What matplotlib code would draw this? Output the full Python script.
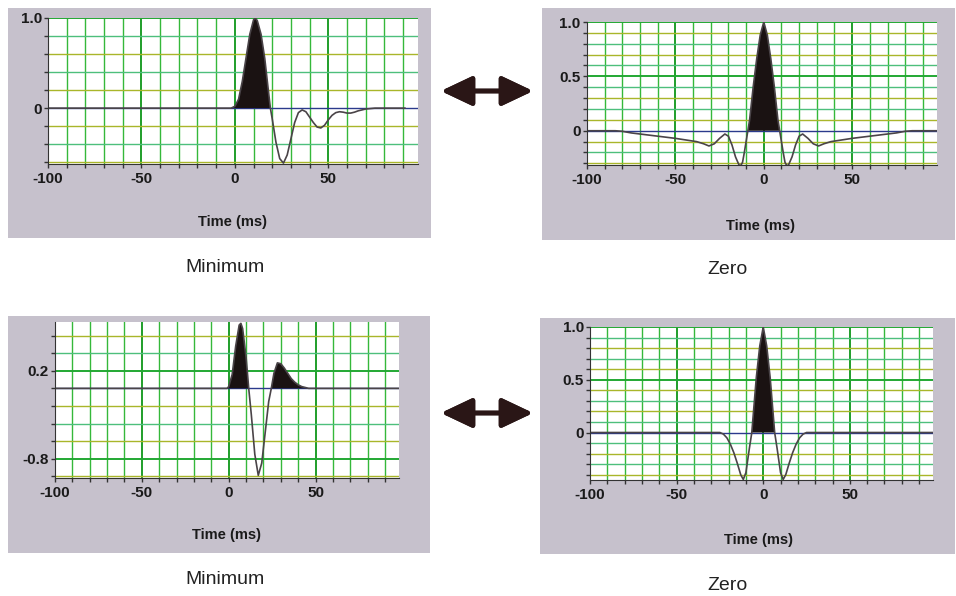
import numpy as np
import matplotlib
matplotlib.use("Agg")
import matplotlib.pyplot as plt
from matplotlib.patches import Rectangle

plt.rcParams["font.family"] = ["Liberation Sans", "DejaVu Sans"]

# ---- data (time in ms, amplitude) ----
# top-left: minimum phase
t_min1 = [-100, -2, 0, 2, 4, 6, 8, 10, 11, 12, 14, 16, 18, 19, 20, 22, 24, 26, 28, 30,
          32, 34, 36, 38, 40, 42, 44, 46, 48, 50, 52, 54, 56, 58, 60, 62, 64, 66, 70, 75, 91]
a_min1 = [0, 0, 0.02, 0.10, 0.30, 0.56, 0.82, 0.98, 1.0, 0.97, 0.82, 0.55, 0.18, 0.0, -0.12,
          -0.38, -0.56, -0.61, -0.52, -0.34, -0.16, -0.05, -0.02, -0.04, -0.10, -0.16, -0.21,
          -0.22, -0.19, -0.13, -0.08, -0.05, -0.04, -0.045, -0.055, -0.055, -0.045, -0.03,
          -0.01, 0.0, 0.0]

# top-right: zero phase
t_zero1 = [-100, -84, -80, -75, -70, -65, -60, -55, -50, -46, -42, -38, -34, -31, -28, -25,
           -22, -20, -18, -16, -14, -13, -12, -11, -10, -9, -8, -6, -4, -2, 0, 2, 4, 6, 8, 9,
           10, 11, 12, 13, 14, 16, 18, 20, 22, 25, 28, 31, 34, 38, 42, 46, 50, 55, 60, 65, 70,
           75, 80, 84, 98]
a_zero1 = [0, 0, -0.005, -0.02, -0.03, -0.04, -0.05, -0.06, -0.07, -0.08, -0.09, -0.10, -0.12,
           -0.14, -0.12, -0.07, -0.03, -0.05, -0.13, -0.24, -0.315, -0.32, -0.29, -0.2, -0.1,
           0.0, 0.10, 0.40, 0.66, 0.88, 1.0, 0.88, 0.66, 0.40, 0.10, 0.0, -0.1, -0.2, -0.29,
           -0.32, -0.315, -0.24, -0.13, -0.05, -0.03, -0.07, -0.12, -0.14, -0.12, -0.10, -0.09,
           -0.08, -0.07, -0.06, -0.05, -0.04, -0.03, -0.02, -0.005, 0, 0]

# bottom-left: minimum phase
t_min2 = [-100, -1, 0, 2, 4, 6, 7, 8, 10, 11.5, 13, 15, 17, 19, 21, 23, 24.5, 26, 28, 30,
          32, 34, 36, 38, 40, 42, 44, 46, 98]
a_min2 = [0, 0, 0.02, 0.16, 0.48, 0.72, 0.74, 0.68, 0.35, 0.0, -0.30, -0.75, -0.99, -0.85,
          -0.50, -0.15, 0.0, 0.17, 0.29, 0.28, 0.23, 0.17, 0.11, 0.07, 0.04, 0.02, 0.01, 0.0, 0.0]

# bottom-right: zero phase
t_zero2 = [-100, -25, -23, -21, -19, -17, -15, -13, -11.5, -10, -8, -6.6, -6, -4, -2, 0, 2, 4,
           6, 6.6, 8, 10, 11.5, 13, 15, 17, 19, 21, 23, 25, 98]
a_zero2 = [0, 0, -0.015, -0.05, -0.11, -0.19, -0.29, -0.40, -0.445, -0.38, -0.15, 0.0, 0.12,
           0.52, 0.82, 1.0, 0.82, 0.52, 0.12, 0.0, -0.15, -0.38, -0.445, -0.40, -0.29, -0.19,
           -0.11, -0.05, -0.015, 0, 0]

x_labels = {-100: "-100", -50: "-50", 0: "0", 50: "50"}
captions = ["Minimum", "Zero", "Minimum", "Zero"]

W, H = 956, 596
GREY = "#c6c1cc"


def box(l, t, r, b):
    return [l / W, 1 - b / H, (r - l) / W, (b - t) / H]


fig = plt.figure(figsize=(W / 100, H / 100), dpi=100)
fig.patch.set_facecolor("white")

# grey panel backgrounds
for l, t, r, b in [(8, 8, 431, 238), (542, 8, 955, 240), (8, 316, 430, 553), (540, 318, 955, 554)]:
    fig.add_artist(Rectangle((l / W, 1 - b / H), (r - l) / W, (b - t) / H,
                             transform=fig.transFigure, facecolor=GREY,
                             edgecolor="none", zorder=0))

panels = [
    dict(t=t_min1, a=a_min1, pos=(48, 18, 418, 164), ylim=(-0.62, 1.0), step=0.2,
         yl={1.0: "1.0", 0.0: "0"}, xlab=(233, 222), cap=(225, 268)),
    dict(t=t_zero1, a=a_zero1, pos=(587, 22, 937, 165), ylim=(-0.315, 1.0), step=0.1,
         yl={1.0: "1.0", 0.5: "0.5", 0.0: "0"}, xlab=(760, 226), cap=(728, 270)),
    dict(t=t_min2, a=a_min2, pos=(55, 322, 399, 478), ylim=(-1.02, 0.755), step=0.2,
         yl={0.2: "0.2", -0.8: "-0.8"}, xlab=(227, 535), cap=(225, 580)),
    dict(t=t_zero2, a=a_zero2, pos=(590, 327, 933, 480), ylim=(-0.45, 1.0), step=0.1,
         yl={1.0: "1.0", 0.5: "0.5", 0.0: "0"}, xlab=(758, 540), cap=(728, 585)),
]

hcols = ["#a9b62a", "#4dbf7c"]

for i, p in enumerate(panels):
    ax = fig.add_axes(box(*p["pos"]))
    ax.set_facecolor("white")
    ax.set_xlim(-100, 98)
    ax.set_ylim(*p["ylim"])

    xt = np.arange(-100, 100, 10)
    for x in xt:
        major = x % 50 == 0
        ax.axvline(x, color="#1f9e2a" if major else "#35b83a",
                   lw=1.4 if major else 1.0, zorder=1)

    n_lo = int(np.ceil(round(p["ylim"][0] / p["step"], 6)))
    n_hi = int(np.floor(round(p["ylim"][1] / p["step"], 6)))
    yt = [round(k * p["step"], 3) for k in range(n_lo, n_hi + 1)]
    for j, y in enumerate(yt):
        if abs(y) < 1e-9:
            continue
        lab = any(abs(y - v) < 1e-6 for v in p["yl"])
        ax.axhline(y, color="#22a833" if lab else hcols[j % 2],
                   lw=1.4 if lab else 1.0, zorder=1)
    ax.axhline(0, color="#2b3a8c", lw=1.0, zorder=2)

    t = np.array(p["t"], dtype=float)
    a = np.array(p["a"], dtype=float)
    ax.fill_between(t, a, 0, where=a >= 0, interpolate=True,
                    color="#1a1212", lw=0, zorder=3)
    ax.plot(t, a, color="#4a4448", lw=1.2, zorder=4)

    ax.set_xticks(xt)
    ax.set_xticklabels([x_labels.get(int(x), "") for x in xt])
    ax.set_yticks(yt)
    ax.set_yticklabels([next((s for v, s in p["yl"].items() if abs(v - y) < 1e-6), "")
                        for y in yt])
    ax.tick_params(axis="x", length=3, width=1, color="#333333", pad=3,
                   labelsize=11, labelcolor="#1a1a1a")
    ax.tick_params(axis="y", length=3, width=1, color="#333333", pad=1.5,
                   labelsize=11, labelcolor="#1a1a1a")
    for lbl in ax.get_xticklabels() + ax.get_yticklabels():
        lbl.set_fontweight("bold")

    for s in ["top", "right"]:
        ax.spines[s].set_visible(False)
    ax.spines["left"].set_color("#333333")
    ax.spines["bottom"].set_color("#333333")
    ax.spines["left"].set_zorder(5)
    ax.spines["bottom"].set_zorder(5)

    fig.text(p["xlab"][0] / W, 1 - p["xlab"][1] / H, "Time (ms)", ha="center",
             va="center", fontsize=10.5, fontweight="bold", color="#1a1a1a")
    fig.text(p["cap"][0] / W, 1 - p["cap"][1] / H, captions[i], ha="center",
             va="center", fontsize=14, color="#222222")

# double-headed arrows between panels
for yc in [91, 413]:
    fig.add_artist(plt.annotate(
        "", xy=(533 / W, 1 - yc / H), xytext=(441 / W, 1 - yc / H),
        xycoords="figure fraction", textcoords="figure fraction",
        arrowprops=dict(arrowstyle="<|-|>,head_length=19,head_width=9",
                        mutation_scale=1, lw=3.4, color="#2a1616",
                        shrinkA=0, shrinkB=0)))

fig.savefig("out.png", dpi=100)
